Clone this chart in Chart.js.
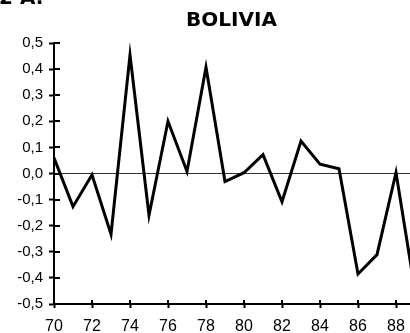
<!DOCTYPE html>
<html>
<head>
<meta charset="utf-8">
<script src="https://cdn.jsdelivr.net/npm/chart.js@4/dist/chart.umd.min.js"></script>
<style>
  html, body { margin: 0; padding: 0; background: #fff; overflow: hidden; }
  #wrap { position: relative; width: 420px; height: 333px; }
</style>
</head>
<body>
<div id="wrap"><canvas id="c"></canvas></div>
<script>
// Annual series, 1970–1989
const years = [70, 71, 72, 73, 74, 75, 76, 77, 78, 79, 80, 81, 82, 83, 84, 85, 86, 87, 88, 89];
const values = [0.06, -0.127, -0.005, -0.233, 0.454, -0.16, 0.20, 0.008, 0.407, -0.031,
                0.003, 0.072, -0.108, 0.124, 0.036, 0.018, -0.385, -0.311, 0.004, -0.45];
const titleText = 'BOLIVIA';
const headingText = '2 A.';
const yRange = [-0.5, 0.5];
const xRange = [70, 89];

const points = years.map((y, i) => ({ x: y, y: values[i] }));
const fmt = v => (Math.abs(v) < 1e-9 ? 0 : v).toFixed(1).replace('.', ',');

// Draws the title, the heading fragment and the inward half of the crossing ticks
const decor = {
  id: 'decor',
  afterDraw(chart) {
    const { ctx, chartArea, scales } = chart;
    ctx.save();
    ctx.fillStyle = '#000';
    ctx.font = 'bold 20px "DejaVu Sans"';
    ctx.textAlign = 'center';
    ctx.textBaseline = 'middle';
    ctx.fillText(titleText, (chartArea.left + chartArea.right) / 2 - 3, 21);
    ctx.textAlign = 'left';
    ctx.textBaseline = 'alphabetic';
    ctx.fillText(headingText, -1, 4);

    ctx.strokeStyle = '#000';
    ctx.lineWidth = 2;
    ctx.beginPath();
    scales.y.ticks.forEach(t => {
      const py = Math.round(scales.y.getPixelForValue(t.value));
      ctx.moveTo(chartArea.left, py);
      ctx.lineTo(chartArea.left + 6, py);
    });
    scales.x.ticks.forEach(t => {
      const px = Math.round(scales.x.getPixelForValue(t.value));
      ctx.moveTo(px, chartArea.bottom);
      ctx.lineTo(px, chartArea.bottom - 4);
    });
    ctx.stroke();
    ctx.restore();
  }
};

new Chart(document.getElementById('c'), {
  type: 'line',
  data: {
    datasets: [{
      data: points,
      borderColor: '#000',
      borderWidth: 3,
      borderJoinStyle: 'miter',
      pointRadius: 0,
      tension: 0,
      fill: false
    }]
  },
  options: {
    responsive: true,
    maintainAspectRatio: false,
    devicePixelRatio: 1,
    animation: false,
    layout: { padding: { top: 43, right: 5, left: 0, bottom: 0 } },
    plugins: { legend: { display: false }, title: { display: false }, tooltip: { enabled: false } },
    scales: {
      x: {
        type: 'linear',
        min: xRange[0],
        max: xRange[1],
        afterFit(s) { s.height = 29; },
        border: { display: true, color: '#000', width: 2 },
        grid: { drawOnChartArea: false, drawTicks: true, tickLength: 4, tickColor: '#000', tickWidth: 2 },
        ticks: {
          stepSize: 2,
          includeBounds: false,
          maxRotation: 0,
          autoSkip: false,
          padding: 9,
          color: '#000',
          font: { family: '"Liberation Sans"', size: 16 },
          callback: v => String(v)
        }
      },
      y: {
        min: yRange[0],
        max: yRange[1],
        afterFit(s) { s.width = 54; },
        border: { display: true, color: '#000', width: 2 },
        grid: {
          drawOnChartArea: true,
          color: c => (c.tick && Math.abs(c.tick.value) < 1e-9 ? '#333' : 'rgba(0,0,0,0)'),
          lineWidth: 1,
          drawTicks: true,
          tickLength: 5,
          tickColor: '#000',
          tickWidth: 2
        },
        ticks: {
          stepSize: 0.1,
          padding: 6,
          color: '#000',
          font: { family: '"Liberation Sans"', size: 15 },
          callback: v => fmt(v)
        }
      }
    }
  },
  plugins: [decor]
});
</script>
</body>
</html>
